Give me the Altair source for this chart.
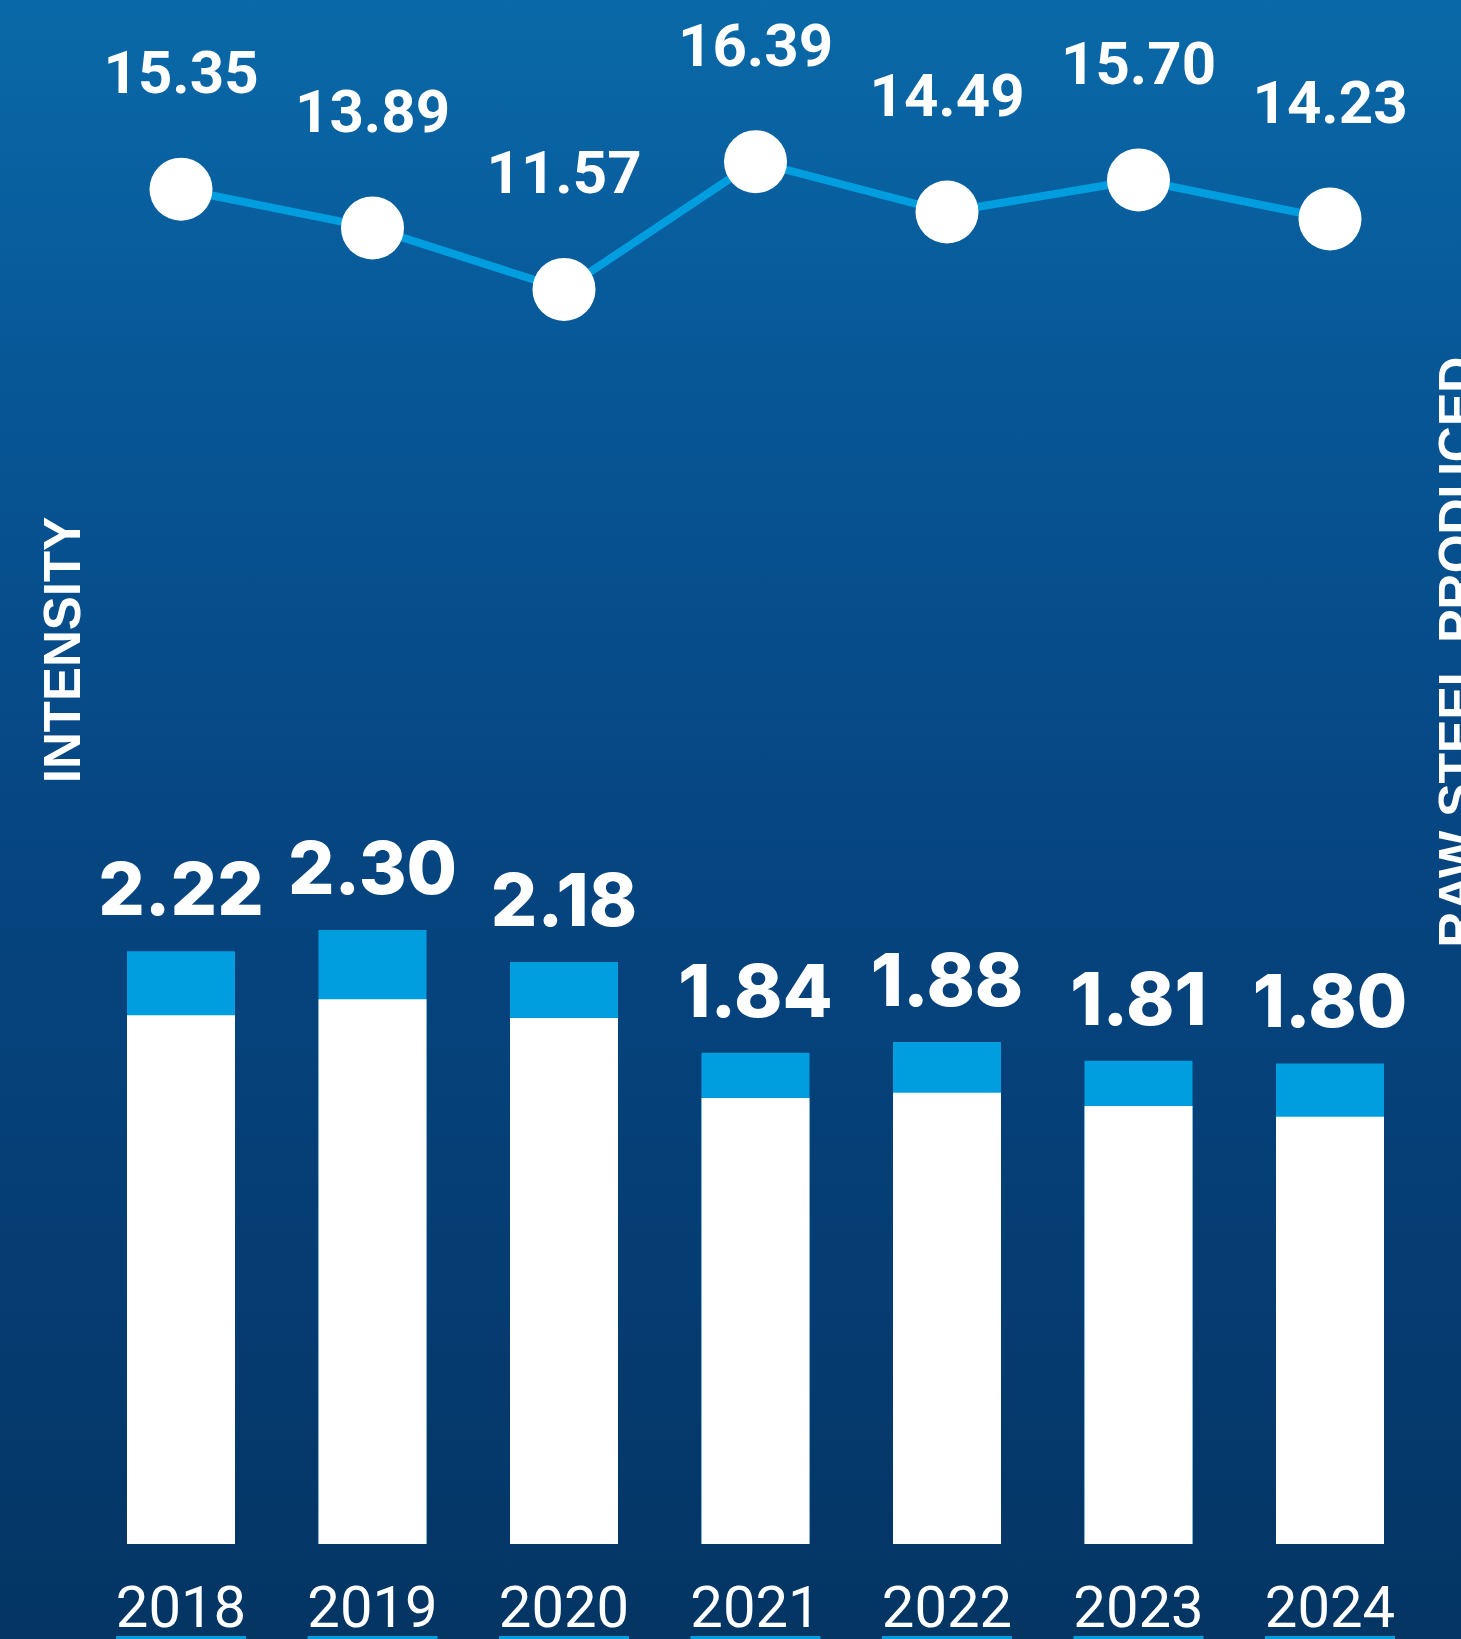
import altair as alt
import pandas as pd

years = [2018, 2019, 2020, 2021, 2022, 2023, 2024]
year_labels = ["2018", "2019", "2020", "2021", "2022", "2023", "2024"]
bar_totals = [2.22, 2.30, 2.18, 1.84, 1.88, 1.81, 1.80]
bar_white = [1.98, 2.04, 1.97, 1.67, 1.69, 1.64, 1.60]
line_values = [15.35, 13.89, 11.57, 16.39, 14.49, 15.70, 14.23]
total_labels = ["2.22", "2.30", "2.18", "1.84", "1.88", "1.81", "1.80"]
line_labels = ["15.35", "13.89", "11.57", "16.39", "14.49", "15.70", "14.23"]

W, H = 1461, 1639
BLUE = "#009ddf"

df = pd.DataFrame({
    "year": years,
    "ylabel": year_labels,
    "total": bar_totals,
    "white": bar_white,
    "line": line_values,
    "tlabel": total_labels,
    "llabel": line_labels,
})

xs = alt.Scale(domain=[2018, 2024], range=[181, 1330], padding=0, zero=False, nice=False)
x = alt.X("year:Q", scale=xs, axis=None)
ybar = alt.Scale(domain=[0, 1544 / 267.0], range=[1544, 0], padding=0, nice=False)
yline = alt.Scale(domain=[0, 22.49], range=[596, 0], padding=0, nice=False)

base = alt.Chart(df)

bg = alt.Chart(pd.DataFrame({"a": [0]})).mark_rect(
    color=alt.Gradient(
        gradient="linear",
        stops=[
            alt.GradientStop(color="#0a69a8", offset=0),
            alt.GradientStop(color="#075595", offset=0.25),
            alt.GradientStop(color="#064682", offset=0.5),
            alt.GradientStop(color="#053a6e", offset=0.85),
            alt.GradientStop(color="#043563", offset=1),
        ],
        x1=0, x2=0, y1=0, y2=1,
    )
).encode(x=alt.value(0), x2=alt.value(W), y=alt.value(0), y2=alt.value(H))

bar_blue = base.mark_bar(width=108, color=BLUE).encode(
    x=x, y=alt.Y("total:Q", scale=ybar, axis=None), y2=alt.datum(0)
)
bar_wh = base.mark_bar(width=108, color="white").encode(
    x=x, y=alt.Y("white:Q", scale=ybar, axis=None), y2=alt.datum(0)
)
bar_txt = base.mark_text(
    font="Inter", fontWeight=800, fontSize=73, color="white",
    align="center", baseline="alphabetic", dy=-36
).encode(x=x, y=alt.Y("total:Q", scale=ybar, axis=None), text="tlabel:N")

line = base.mark_line(color=BLUE, strokeWidth=8).encode(
    x=x, y=alt.Y("line:Q", scale=yline, axis=None)
)
pts = base.mark_point(filled=True, shape="circle", size=3970, color="white", opacity=1).encode(
    x=x, y=alt.Y("line:Q", scale=yline, axis=None)
)
line_txt = base.mark_text(
    font="Roboto", fontWeight="bold", fontSize=60, color="white",
    align="center", baseline="alphabetic", dy=-96
).encode(x=x, y=alt.Y("line:Q", scale=yline, axis=None), text="llabel:N")

year_txt = base.mark_text(
    font="Roboto", fontWeight="normal", fontSize=58, color="white",
    align="center", baseline="alphabetic"
).encode(x=x, y=alt.value(1627), text="ylabel:N")

underline = base.mark_bar(width=130, color=BLUE).encode(
    x=x, y=alt.value(1636), y2=alt.value(1639)
)

t_left = alt.Chart(pd.DataFrame({"t": ["INTENSITY"]})).mark_text(
    font="Liberation Sans", fontWeight="bold", fontSize=51, color="white",
    angle=270, align="center", baseline="alphabetic"
).encode(x=alt.value(80), y=alt.value(650), text="t:N")
t_right = alt.Chart(pd.DataFrame({"t": ["RAW STEEL PRODUCED"]})).mark_text(
    font="Liberation Sans", fontWeight="bold", fontSize=50, color="white",
    angle=270, align="center", baseline="alphabetic"
).encode(x=alt.value(1474), y=alt.value(652), text="t:N")

chart = alt.layer(
    bg, bar_blue, bar_wh, bar_txt, line, pts, line_txt, year_txt, underline, t_left, t_right
).resolve_scale(y="independent").properties(
    width=W, height=H, padding=0, autosize=alt.AutoSizeParams(type="none"),
    background="#043563"
).configure_view(stroke=None, strokeWidth=0)

chart.save("out.html", embed_options={"renderer": "svg", "actions": False})
